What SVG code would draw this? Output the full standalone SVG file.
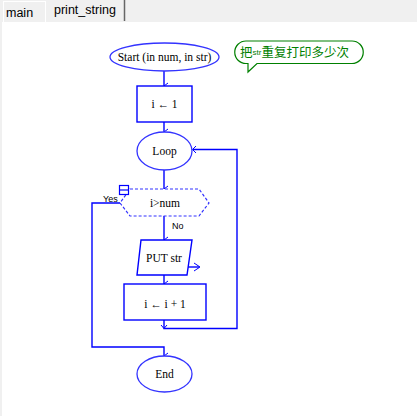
<svg xmlns="http://www.w3.org/2000/svg" width="417" height="416" viewBox="0 0 417 416">
<style>
.ln{fill:none;stroke:#0000ff;stroke-width:1.4}
.ell{fill:#fff;stroke:#3333ff;stroke-width:1.3}
.box{fill:#fff;stroke:#0000ff;stroke-width:1.4}
.t{font-family:"Liberation Serif",serif;font-size:11.5px;fill:#000;text-anchor:middle}
.s{font-family:"Liberation Sans",Arial,sans-serif;font-size:9px;fill:#000}
.tab{font-family:"Liberation Sans",Arial,sans-serif;font-size:12.5px;fill:#000}
</style>
<defs>
<marker id="ah" viewBox="0 0 8 8" refX="4" refY="7" markerWidth="8" markerHeight="8" markerUnits="userSpaceOnUse" orient="auto-start-reverse">
<path d="M1,3 L4,7 L7,3" fill="none" stroke="#0000ff" stroke-width="1"/>
</marker>
</defs>
<rect x="0" y="0" width="417" height="416" fill="#fff"/>
<g id="tabs">
<rect x="0" y="0" width="417" height="22" fill="#f0f0f0"/>
<rect x="0" y="22" width="2" height="394" fill="#f0f0f0"/>
<rect x="3.5" y="1.5" width="42" height="21" fill="#f0f0f0" stroke="#ffffff"/>
<text class="tab" x="6" y="17">main</text>
<text class="tab" x="54" y="14">print_string</text>
<line x1="124.5" y1="0" x2="124.5" y2="21" stroke="#666" stroke-width="1.5"/>
</g>
<g id="connectors">
<line class="ln" x1="164" y1="71" x2="164" y2="86" marker-end="url(#ah)"/>
<line class="ln" x1="164" y1="122" x2="164" y2="132" marker-end="url(#ah)"/>
<line class="ln" x1="164" y1="170" x2="164" y2="189" marker-end="url(#ah)"/>
<line class="ln" x1="164" y1="216" x2="164" y2="240" marker-end="url(#ah)"/>
<line class="ln" x1="164" y1="275" x2="164" y2="284" marker-end="url(#ah)"/>
<polyline class="ln" points="164,320 164,328.5 237,328.5 237,149.5 193,149.5"/>
<polyline class="ln" points="120,203 92,203 92,347 164,347 164,356" marker-end="url(#ah)"/>
<line class="ln" x1="186" y1="267" x2="199" y2="267"/>
<path d="M194,263 L200,267 L194,271" fill="none" stroke="#0000ff" stroke-width="1"/>
<path d="M196,146 L192.5,149.5 L196,153" fill="none" stroke="#0000ff" stroke-width="1"/>
<path d="M161,325 L164,328.5 L167,325" fill="none" stroke="#0000ff" stroke-width="1"/>
<text class="s" x="103" y="202">Yes</text>
<text class="s" x="172" y="229">No</text>
</g>
<g id="start">
<ellipse class="ell" cx="164.5" cy="57" rx="54.5" ry="14"/>
<text class="t" x="164.5" y="61">Start (in num, in str)</text>
</g>
<g id="init">
<rect class="box" x="137" y="86" width="55" height="36"/>
<text class="t" x="164.5" y="108">i ← 1</text>
</g>
<g id="loop">
<ellipse class="ell" cx="164.5" cy="151" rx="27.5" ry="19"/>
<text class="t" x="164.5" y="155">Loop</text>
</g>
<g id="cond">
<polygon points="130,189 199,189 209,203 199,216 130,216 120,203" fill="#fff" stroke="#3333ff" stroke-width="1.2" stroke-dasharray="3,2"/>
<rect x="119.5" y="185.5" width="9" height="9" fill="#fff" stroke="#0000ff" stroke-width="1.2"/>
<line x1="119.5" y1="190" x2="128.5" y2="190" stroke="#0000ff" stroke-width="1.2"/>
<text class="t" x="165" y="207">i&gt;num</text>
</g>
<g id="put">
<polygon points="141,240 192,240 187,275 137,275" class="box"/>
<text class="t" x="164" y="262">PUT str</text>
</g>
<g id="incr">
<rect class="box" x="124" y="284" width="82" height="36"/>
<text class="t" x="165" y="308">i ← i + 1</text>
</g>
<g id="end">
<ellipse class="ell" cx="164.5" cy="374" rx="27.5" ry="18"/>
<text class="t" x="164.5" y="378">End</text>
</g>
<g id="comment">
<path d="M248,63.5 L246,63.5 A10.5,10.5 0 0 1 246,41 L352,41 A11,11 0 0 1 352,63.5 L257,63.5 L248,72 Z" fill="#fff" stroke="#008000" stroke-width="1.2"/>
<text x="240" y="57" fill="#008000" font-family="'Noto Sans CJK SC',sans-serif" font-size="12.5">把<tspan font-size="8" font-family="'Liberation Sans',sans-serif" dy="-2">str</tspan><tspan dy="2">重复打印多少次</tspan></text>
</g>
</svg>
